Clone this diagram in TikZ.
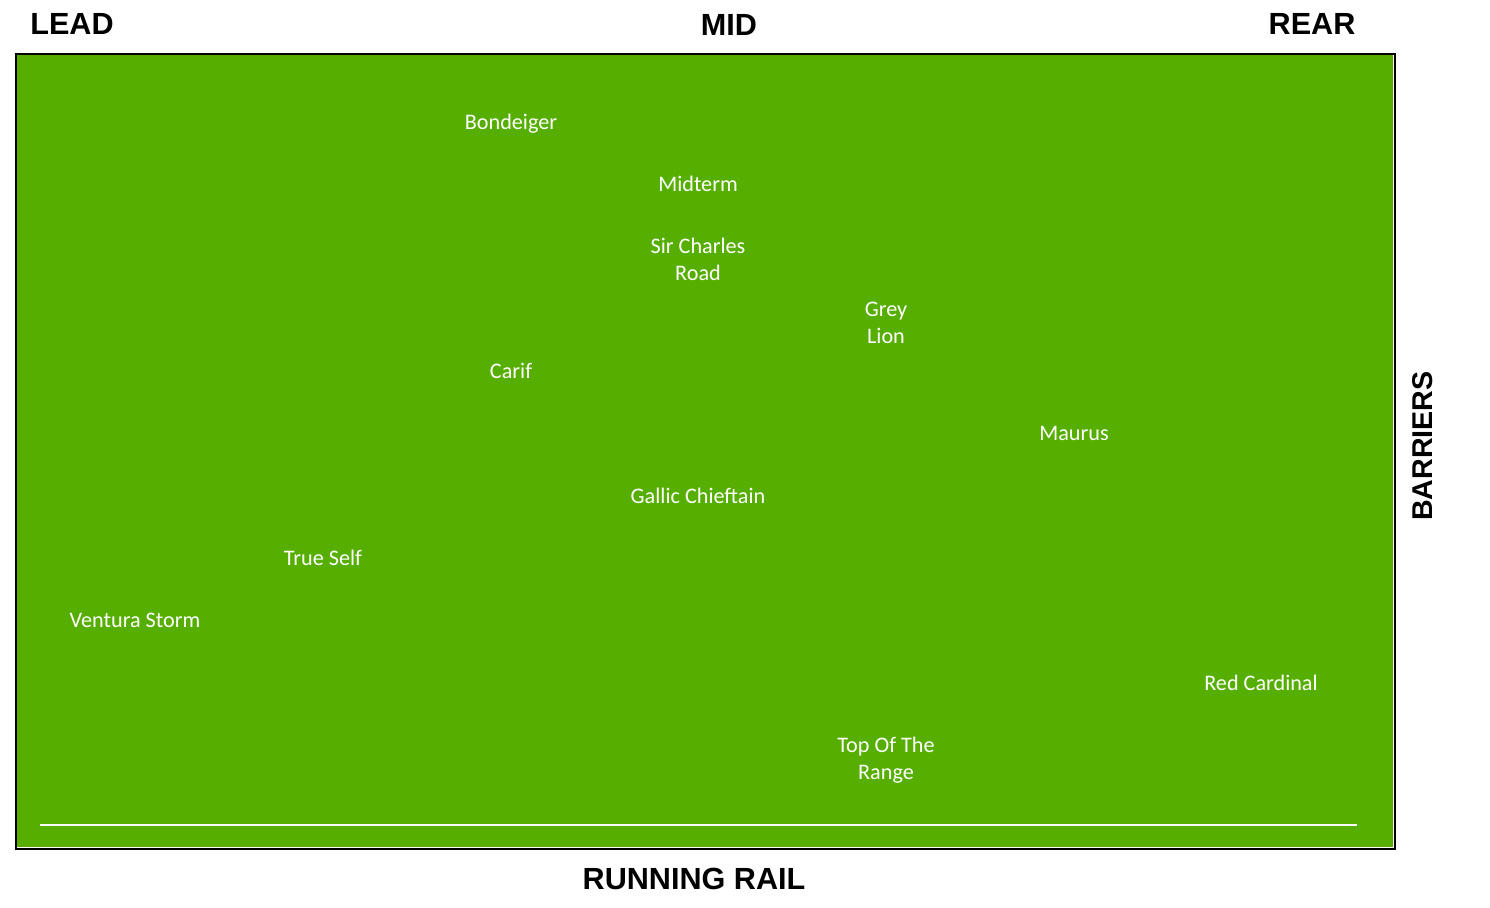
\documentclass[tikz,border=0pt]{standalone}
\usepackage{fontspec}
\setmainfont{Carlito}
\newfontfamily\hdrfont{Liberation Sans}
\definecolor{turf}{RGB}{86,174,0}
\begin{document}
\begin{tikzpicture}[x=1pt,y=-1pt,
  horse/.style={text=white,font=\fontsize{22.2}{27}\selectfont,align=center,anchor=base,inner sep=0pt},
  hdr/.style={font=\hdrfont\bfseries\fontsize{30.6}{34}\selectfont,anchor=base,inner sep=0pt}]
\useasboundingbox (0,0) rectangle (1490,907);
\fill[white] (0,0) rectangle (1490,907);
\fill[white] (16,54) rectangle (1395,849);
\fill[turf] (16,54) rectangle (1392.5,846.5);
\draw[black,line width=2.2pt] (16,54) rectangle (1395,849);
\coordinate (railL) at (40,825);
\coordinate (railR) at (1357,825);
\draw[white,line width=2.6pt] (railL) -- (railR);
\node[hdr] (lead) at (72,35) {LEAD};
\node[hdr] (mid) at (729,36) {MID};
\node[hdr] (rear) at (1312,35) {REAR};
\node[hdr] (rail) at (694,889) {RUNNING RAIL};
\node[hdr,rotate=90,font=\hdrfont\bfseries\fontsize{28.6}{32}\selectfont] (barriers) at (1432,446) {BARRIERS};
\node[horse] (bond) at (511,129) {Bondeiger};
\node[horse] (midt) at (698,191) {Midterm};
\node[horse] (sirc) at (698,280) {Sir Charles\\Road};
\node[horse] (grey) at (886,343) {Grey\\Lion};
\node[horse] (carif) at (511,378) {Carif};
\node[horse] (maur) at (1074,440) {Maurus};
\node[horse] (gall) at (698,503) {Gallic Chieftain};
\node[horse] (true) at (323,565) {True Self};
\node[horse] (vent) at (135,627) {Ventura Storm};
\node[horse] (red) at (1261,690) {Red Cardinal};
\node[horse] (top) at (886,779) {Top Of The\\Range};
\end{tikzpicture}
\end{document}
